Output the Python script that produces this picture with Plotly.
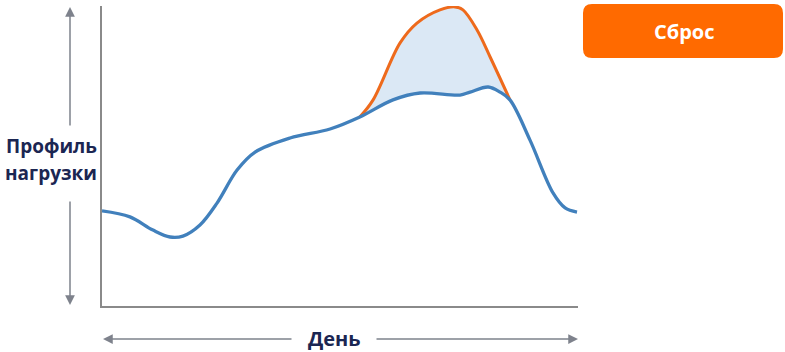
import plotly.graph_objects as go

# Load profile (blue) – hour of day vs load (relative units)
hours = [0.0, 1.41, 2.57, 3.43, 4.08, 4.94, 5.8, 6.81, 7.72, 9.48, 11.5, 13.0,
         14.67, 16.04, 18.05, 18.56, 19.47, 20.07, 20.57, 21.58, 22.74, 23.35, 23.95]
load = [31.7, 29.7, 25.3, 23.0, 23.3, 27.0, 34.3, 45.3, 51.3, 56.0, 59.0, 63.0,
        68.7, 71.0, 70.3, 71.3, 73.0, 71.3, 68.7, 55.3, 37.7, 32.7, 31.3]

# Peak profile (orange)
peak_hours = [13.0, 13.67, 15.03, 15.88, 17.04, 17.8, 18.2, 18.91, 19.57, 20.57]
peak_load = [63.0, 68.7, 87.7, 94.3, 98.7, 99.7, 98.7, 92.0, 83.0, 68.7]

y_label_lines = ["Профиль", "нагрузки"]
x_label = "День"
button_label = "Сброс"

BLUE = "#4180BC"
ORANGE = "#EE6A1C"
FILL = "rgba(213,228,243,0.85)"
GRAY = "#7E828C"
NAVY = "#1B2652"

W, H = 785, 352
L, R, T, B = 102, 207, 6, 46
PW, PH = W - L - R, H - T - B

def px(x):
    return (x - L) / PW

def py(y):
    return (H - B - y) / PH

# subset of blue under the peak
i0 = hours.index(peak_hours[0])
i1 = hours.index(peak_hours[-1])
sub_h = hours[i0:i1 + 1]
sub_l = load[i0:i1 + 1]

fig = go.Figure()
fig.add_trace(go.Scatter(x=sub_h, y=sub_l, mode="lines",
                         line=dict(color="rgba(0,0,0,0)", width=0, shape="spline"),
                         hoverinfo="skip", showlegend=False))
fig.add_trace(go.Scatter(x=peak_hours, y=peak_load, mode="lines", fill="tonexty",
                         fillcolor=FILL,
                         line=dict(color=ORANGE, width=3, shape="spline"),
                         hoverinfo="skip", showlegend=False))
fig.add_trace(go.Scatter(x=hours, y=load, mode="lines",
                         line=dict(color=BLUE, width=3.3, shape="spline"),
                         hoverinfo="skip", showlegend=False))

ann = []
arrow_common = dict(xref="paper", yref="paper", axref="pixel", ayref="pixel",
                    showarrow=True, text="", arrowhead=2, arrowsize=1.3,
                    arrowwidth=1.5, arrowcolor=GRAY)
# vertical arrows
ann.append(dict(x=px(70), y=py(7), ax=0, ay=120, **arrow_common))
ann.append(dict(x=px(70), y=py(305), ax=0, ay=-105, **arrow_common))
# horizontal arrows
ann.append(dict(x=px(103), y=py(339), ax=190, ay=0, **arrow_common))
ann.append(dict(x=px(578), y=py(339), ax=-203, ay=0, **arrow_common))

for txt, yy in zip(y_label_lines, [146, 173]):
    ann.append(dict(xref="paper", yref="paper", x=px(51), y=py(yy), text=f"<b>{txt}</b>",
                    showarrow=False, font=dict(family="Open Sans", size=19, color=NAVY),
                    xanchor="center", yanchor="middle"))
ann.append(dict(xref="paper", yref="paper", x=px(334), y=py(338), text=f"<b>{x_label}</b>",
                showarrow=False, font=dict(family="Open Sans", size=20, color=NAVY),
                xanchor="center", yanchor="middle"))
ann.append(dict(xref="paper", yref="paper", x=px(684), y=py(31), text=f"<b>{button_label}</b>",
                showarrow=False, font=dict(family="Open Sans", size=20, color="white"),
                xanchor="center", yanchor="middle"))

# rounded button
x0, x1, y0, y1, r = 583, 783, 4, 58, 9
def P(x, y):
    return f"{px(x):.5f},{py(y):.5f}"
path = (f"M {P(x0 + r, y0)} L {P(x1 - r, y0)} Q {P(x1, y0)} {P(x1, y0 + r)} "
        f"L {P(x1, y1 - r)} Q {P(x1, y1)} {P(x1 - r, y1)} "
        f"L {P(x0 + r, y1)} Q {P(x0, y1)} {P(x0, y1 - r)} "
        f"L {P(x0, y0 + r)} Q {P(x0, y0)} {P(x0 + r, y0)} Z")

fig.update_layout(
    width=W, height=H, margin=dict(l=L, r=R, t=T, b=B),
    paper_bgcolor="white", plot_bgcolor="white",
    xaxis=dict(range=[0, 24], showgrid=False, zeroline=False, showticklabels=False,
               ticks="", showline=True, linecolor="#8A8A8A", linewidth=1.5, fixedrange=True),
    yaxis=dict(range=[0, 100], showgrid=False, zeroline=False, showticklabels=False,
               ticks="", showline=True, linecolor="#8A8A8A", linewidth=1.5, fixedrange=True),
    annotations=ann,
    shapes=[dict(type="path", xref="paper", yref="paper", path=path,
                 fillcolor="#FF6A00", line=dict(width=0), layer="below")],
    showlegend=False,
)

fig.write_html("out.html", config={"displayModeBar": False})
